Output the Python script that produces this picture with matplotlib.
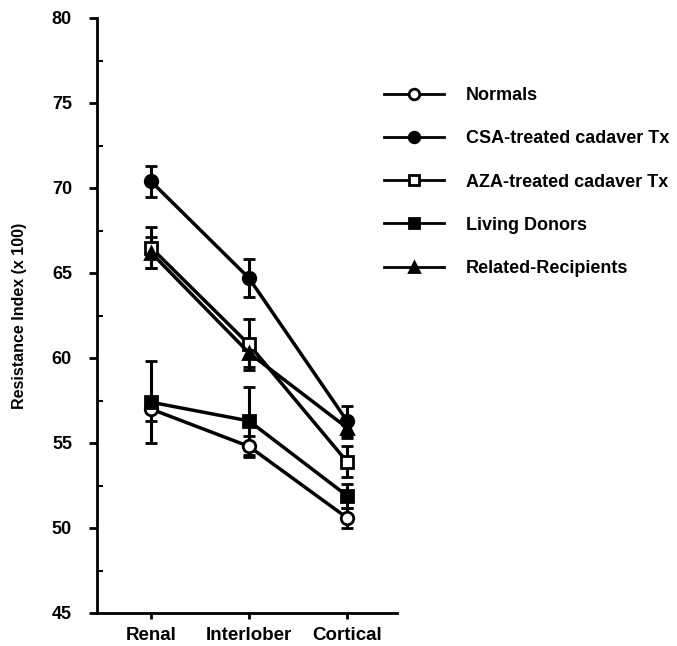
import matplotlib
matplotlib.use('Agg')
import matplotlib.pyplot as plt
from matplotlib.ticker import MultipleLocator

plt.rcParams['font.family'] = ['Liberation Sans', 'DejaVu Sans']

# data
sites = ['Renal', 'Interlober', 'Cortical']
groups = ['Normals', 'CSA-treated cadaver Tx', 'AZA-treated cadaver Tx',
          'Living Donors', 'Related-Recipients']
normals = [57.0, 54.8, 50.6]
normals_err = [0.7, 0.6, 0.6]
csa = [70.4, 64.7, 56.3]
csa_err = [0.9, 1.1, 0.9]
aza = [66.5, 60.8, 53.9]
aza_err = [1.2, 1.5, 0.9]
living = [57.4, 56.3, 51.9]
living_err = [2.4, 2.0, 0.7]
related = [66.2, 60.3, 55.9]
related_err = [0.9, 0.8, 0.6]

series = [
    (normals, normals_err, 'o', 'white'),
    (csa, csa_err, 'o', 'black'),
    (aza, aza_err, 's', 'white'),
    (living, living_err, 's', 'black'),
    (related, related_err, '^', 'black'),
]

fig = plt.figure(figsize=(6.77, 6.46), dpi=100)
ax = fig.add_axes([97 / 677, 1 - 613 / 646, 300 / 677, 595 / 646])

x = [1, 2, 3]
for (vals, errs, marker, face), name in zip(series, groups):
    ax.errorbar(x, vals, yerr=errs, color='black', lw=2.5, marker=marker,
                markersize=9, markerfacecolor=face, markeredgecolor='black',
                markeredgewidth=2, ecolor='black', elinewidth=2.2,
                capsize=4.5, capthick=2.2, label=name)

ax.set_xlim(0.45, 3.51)
ax.set_ylim(45, 80)
ax.set_xticks(x)
ax.set_xticklabels(sites, fontsize=13.5, fontweight='bold')
ax.yaxis.set_major_locator(MultipleLocator(5))
ax.yaxis.set_minor_locator(MultipleLocator(2.5))
ax.tick_params(axis='y', which='major', direction='out', length=6, width=2,
               labelsize=13, pad=12)
ax.tick_params(axis='y', which='minor', direction='in', length=4, width=1.5)
ax.tick_params(axis='x', which='major', direction='out', length=4, width=2, pad=6)
for lab in ax.get_yticklabels():
    lab.set_fontweight('bold')
ax.spines['top'].set_visible(False)
ax.spines['right'].set_visible(False)
ax.spines['left'].set_linewidth(2)
ax.spines['bottom'].set_linewidth(2)
ax.set_ylabel('Resistance Index (x 100)', fontsize=11.5, fontweight='bold', labelpad=18)

# legend in the upper right, no frame
handles, labels = ax.get_legend_handles_labels()
handles = [h[0] for h in handles]
leg = fig.legend(handles, labels, loc='upper left', bbox_to_anchor=(368 / 677, 1 - 71 / 646),
                 frameon=False, fontsize=13, handlelength=3.3, handletextpad=1.2,
                 labelspacing=1.45, markerscale=0.85)
for t in leg.get_texts():
    t.set_fontweight('bold')
for h in leg.legend_handles:
    h.set_linewidth(2)

fig.savefig('out.png', dpi=100)
